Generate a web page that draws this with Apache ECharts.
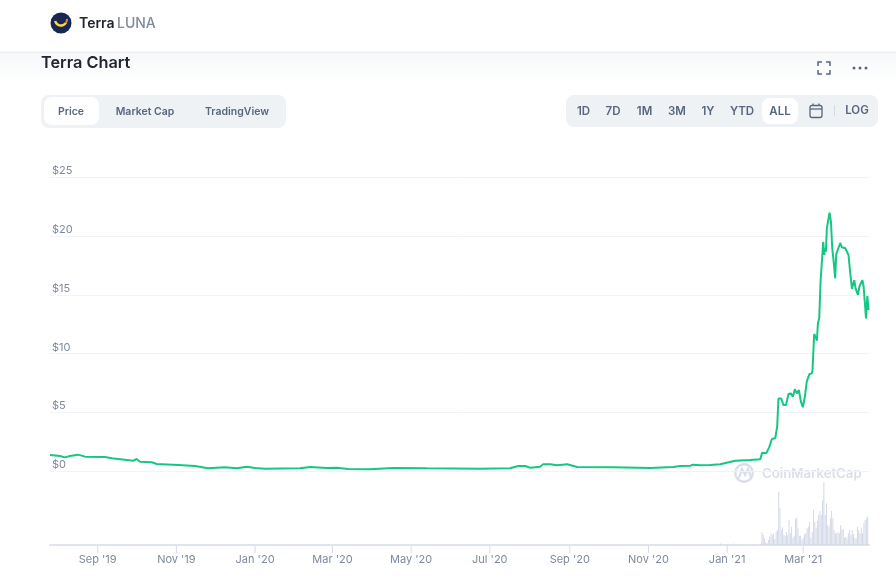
<!DOCTYPE html>
<html><head><meta charset="utf-8">
<style>html,body{margin:0;padding:0;background:#fff}#c{width:896px;height:587px}</style>
<script src="https://cdn.jsdelivr.net/npm/echarts@6/dist/echarts.min.js"></script>
</head><body><div id="c"></div>
<script>
// Days counted from the first day of the chart
const startDate = Date.UTC(2019, 6, 26);
const endDay = 635;
const priceDays = [0,7.8,11.6,15.5,21.9,27.1,42.7,47.9,59.5,64.6,67.2,69.8,78.9,82.8,99.3,112.5,122.5,135.7,144.8,152.6,159,166.7,193.9,201.6,214.6,222.3,231.1,248.2,266,292.2,333.5,356.8,363,368.4,372.3,380,382.3,387.8,393.2,401,408.7,436.6,465.3,483.2,488.6,496.4,498.7,504.1,511.9,519.6,531.3,542.9,550.6,552.2,555.3,557.6,559.7,562.3,563.8,564.8,566.9,568.7,570.6,572.6,574.4,576,577.5,579.1,580.6,582.2,583.7,585.3,586.8,588.1,588.9,590.7,591.2,592.5,594.1,594.6,595.4,596.4,597.4,598.5,599.5,600.3,601,601.6,602.3,603.4,604.4,605.5,606.5,607.5,608.8,609.6,610.9,612.7,614,616.6,619.1,620.5,621.8,622.5,623.6,624.6,626.4,627.7,628.7,629.8,630.8,631.9,632.7,633.7,634.7];
const priceUsd = [1.40,1.32,1.2,1.32,1.43,1.26,1.23,1.12,0.98,0.92,1.06,0.83,0.78,0.64,0.55,0.47,0.27,0.36,0.27,0.41,0.3,0.24,0.27,0.38,0.3,0.32,0.21,0.19,0.3,0.27,0.24,0.27,0.47,0.47,0.32,0.41,0.61,0.61,0.53,0.61,0.38,0.36,0.3,0.38,0.47,0.49,0.58,0.53,0.55,0.61,0.92,0.97,1.03,1.6,1.54,2.05,2.76,2.82,3.8,6.2,6.2,5.64,5.64,6.58,6.63,6.35,6.98,6.63,6.92,5.93,5.45,6.35,7.68,7.77,8.28,8.33,8.6,11.67,11.3,11.1,12.58,13,16.03,16.1,19.5,18.4,18.95,18.66,20.64,20.78,21.97,21.2,18.95,17.95,16.4,18.46,18.46,19.4,19.03,18.95,18.38,16.82,15.5,15.46,16.25,15.55,14.98,15.75,15.75,16.25,15.75,15.69,13,14.9,13.7];
const earlyVolumeDays = [158,515,520,525,530,538,545];
const earlyVolume = [12,12,16,10,14,10,12];
const volumeStartDay = 552;
const volumeMillions = [127,100,67,27,17,50,83,117,100,117,60,133,150,533,367,150,177,100,93,127,100,250,117,183,73,93,260,277,167,93,93,50,73,107,117,167,183,233,73,133,350,233,173,240,300,340,300,450,627,300,417,200,183,267,340,267,150,117,117,133,117,200,150,160,73,83,67,117,150,100,150,107,67,67,183,150,117,173,117,217,250,267,283];
const priceTicks = [0,5,10,15,20,25];
const monthTicks = [[2019,8],[2019,10],[2020,0],[2020,2],[2020,4],[2020,6],[2020,8],[2020,10],[2021,0],[2021,2]];
const monthNames = ['Jan','Feb','Mar','Apr','May','Jun','Jul','Aug','Sep','Oct','Nov','Dec'];
const leftTabs = ['Price','Market Cap','TradingView'];
const rightTabs = ['1D','7D','1M','3M','1Y','YTD','ALL'];

const DAY = 86400000;
const toTime = d => startDate + d * DAY;
const tickTimes = monthTicks.map(m => Date.UTC(m[0], m[1], 1));
const priceData = priceDays.map((d, i) => [toTime(d), priceUsd[i]]);
const volData = earlyVolumeDays.map((d, i) => [toTime(d), earlyVolume[i]])
  .concat(volumeMillions.map((v, i) => [toTime(volumeStartDay + i), v]));
const tickMarks = tickTimes.map(t => [t, 1]);

const F = 'Inter, "Noto Sans", sans-serif';
const txt = (text, x, y, font, fill, align) => ({type:'text', x, y, silent:true,
  style:{text, font:font + ' ' + F, fill, textAlign:align || 'center', textVerticalAlign:'middle'}});
const rr = (x, y, width, height, r, fill) => ({type:'rect', silent:true, shape:{x, y, width, height, r}, style:{fill}});
const UI = '#58667e';
const leftX = [71, 145, 237];
const rightX = [583.5, 613, 644.5, 677, 708, 742, 780];
const graphic = [
  {type:'rect', silent:true, shape:{x:0,y:53,width:896,height:30}, style:{fill:{type:'linear',x:0,y:0,x2:0,y2:1,colorStops:[{offset:0,color:'#f7f8fa'},{offset:1,color:'#ffffff'}]}}},
  rr(0,51.5,896,1.5,0,'#eceef2'),
  {type:'circle', silent:true, shape:{cx:61,cy:23,r:10.5}, style:{fill:'#172852'}},
  {type:'arc', silent:true, shape:{cx:61,cy:19.5,r:6,startAngle:0.6,endAngle:2.9}, style:{stroke:'#ffd83d',lineWidth:2.5,fill:null}},
  {type:'arc', silent:true, shape:{cx:61,cy:19.5,r:6,startAngle:-0.1,endAngle:0.6}, style:{stroke:'#f0862f',lineWidth:2,fill:null}},
  txt('Terra',79,24,'600 14px','#222531','left'),
  txt('LUNA',117,24,'500 14px','#808a9d','left'),
  txt('Terra Chart',41,63,'600 16.3px','#222531','left'),
  rr(41,95,245,33,8,'#eff2f5'),
  rr(44,97,55,28,8,'#ffffff'),
  ...leftTabs.map((t,i)=>txt(t,leftX[i],112,'600 10.5px',UI)),
  rr(566,95,312,32,8,'#eff2f5'),
  rr(762,98,36,26,8,'#ffffff'),
  ...rightTabs.map((t,i)=>txt(t,rightX[i],112,'600 11.5px',UI)),
  {type:'rect', silent:true, shape:{x:810,y:105.5,width:12,height:12,r:2}, style:{fill:null,stroke:UI,lineWidth:1.3}},
  {type:'line', silent:true, shape:{x1:810,y1:109,x2:822,y2:109}, style:{stroke:UI,lineWidth:1.3}},
  {type:'line', silent:true, shape:{x1:813,y1:103.5,x2:813,y2:106}, style:{stroke:UI,lineWidth:1.3}},
  {type:'line', silent:true, shape:{x1:819,y1:103.5,x2:819,y2:106}, style:{stroke:UI,lineWidth:1.3}},
  {type:'line', silent:true, shape:{x1:834.5,y1:105,x2:834.5,y2:116}, style:{stroke:'#d5dae3',lineWidth:1}},
  txt('LOG',857,111,'600 11.5px',UI),
  ...[[818,66,818,62,822,62],[826,62,830,62,830,66],[830,70,830,74,826,74],[822,74,818,74,818,70]].map(p=>({type:'polyline',silent:true,shape:{points:[[p[0],p[1]],[p[2],p[3]],[p[4],p[5]]]},style:{stroke:UI,lineWidth:1.5,fill:null}})),
  ...[854,860,866].map(x=>({type:'circle',silent:true,shape:{cx:x,cy:68,r:1.5},style:{fill:UI}})),
  {type:'circle', silent:true, shape:{cx:744,cy:473,r:8.8}, style:{fill:null,stroke:'#d9dee8',lineWidth:2.4}},
  {type:'polyline', silent:true, shape:{points:[[739,478],[742,469],[745,475],[748,469],[751,477]]}, style:{stroke:'#d9dee8',lineWidth:2.2,fill:null}},
  txt('CoinMarketCap',762,474,'600 13.2px','#d9dee8','left')
];
const option = {
  useUTC:true, animation:false, backgroundColor:'#ffffff',
  graphic:{elements:graphic},
  grid:[{left:50,right:27,top:177,height:294.5},{left:50,right:27,top:482,height:63},{left:50,right:27,top:546,height:7}],
  xAxis:[
    {type:'value',gridIndex:0,min:startDate,max:toTime(endDay),show:false,splitLine:{show:false}},
    {type:'value',gridIndex:1,min:startDate,max:toTime(endDay),
     axisLine:{show:true,lineStyle:{color:'#e0e4ef',width:2}},
     axisTick:{show:false},
     splitLine:{show:false},
     axisLabel:{customValues:tickTimes,margin:9,fontFamily:F,fontSize:11,color:'#7e899c',hideOverlap:false,
       formatter:v=>{const d=new Date(v);return monthNames[d.getUTCMonth()]+" '"+String(d.getUTCFullYear()).slice(2);}}},
    {type:'value',gridIndex:2,min:startDate,max:toTime(endDay),show:false,splitLine:{show:false}}
  ],
  yAxis:[
    {type:'value',gridIndex:0,min:priceTicks[0],max:priceTicks[priceTicks.length-1],interval:5,
     axisLine:{show:false},axisTick:{show:false},
     splitLine:{lineStyle:{color:'#f2f3f6',width:1}},
     axisLabel:{inside:true,verticalAlign:'bottom',margin:2,fontFamily:F,fontSize:11,color:'#7e899c',formatter:v=>'$'+v,padding:[0,0,1,0]}},
    {type:'value',gridIndex:1,min:0,max:630,show:false,splitLine:{show:false}},
    {type:'value',gridIndex:2,min:0,max:1,show:false,inverse:true,splitLine:{show:false}}
  ],
  series:[
    {type:'bar',xAxisIndex:1,yAxisIndex:1,data:volData,barWidth:0.8,itemStyle:{color:'#d3d9e7'},silent:true,z:1},
    {type:'bar',xAxisIndex:2,yAxisIndex:2,data:tickMarks,barWidth:1,itemStyle:{color:'#d5dbe8'},silent:true,z:1},
    {type:'line',xAxisIndex:0,yAxisIndex:0,data:priceData,showSymbol:false,symbol:'none',smooth:false,
     lineStyle:{color:'#16c784',width:2},silent:true,z:3}
  ]
};
echarts.init(document.getElementById('c'),null,{renderer:'canvas'}).setOption(option);
</script></body></html>
